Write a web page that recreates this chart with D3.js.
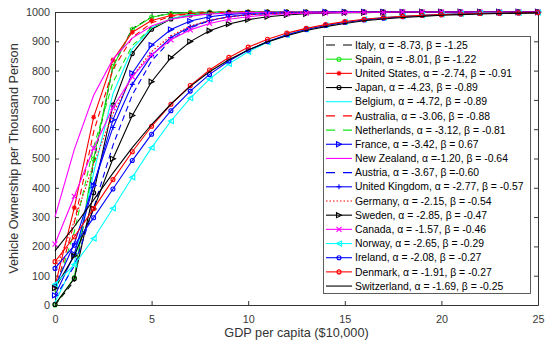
<!DOCTYPE html>
<html lang="en">
<head>
<meta charset="UTF-8">
<title>Vehicle ownership vs GDP per capita</title>
<script src="https://d3js.org/d3.v7.min.js"></script>
<style>
  body { margin: 0; background: #fff; }
  svg { display: block; font-family: "Liberation Sans", Arial, sans-serif; }
  .axis text { fill: #3a3a3a; font-size: 10.8px; }
  .axis path, .axis line { stroke: #333; }
</style>
</head>
<body>
<script>
// GDP per capita ($10,000)
const xValues = [0,1,2,3,4,5,6,7,8,9,10,11,12,13,14,15,16,17,18,19,20,21,22,23,24,25];

// vehicle ownership per thousand persons
const italy = [0,82,488,814,943,983,995,999,1000,1000,1000,1000,1000,1000,1000,1000,1000,1000,1000,1000,1000,1000,1000,1000,1000,1000];
const spain = [0,94,498,814,941,982,995,998,1000,1000,1000,1000,1000,1000,1000,1000,1000,1000,1000,1000,1000,1000,1000,1000,1000,1000];
const unitedStates = [65,332,641,836,931,971,988,995,998,999,1000,1000,1000,1000,1000,1000,1000,1000,1000,1000,1000,1000,1000,1000,1000,1000];
const japan = [2,90,383,682,858,941,976,990,996,998,999,1000,1000,1000,1000,1000,1000,1000,1000,1000,1000,1000,1000,1000,1000,1000];
const belgium = [9,144,451,721,874,946,978,991,996,998,999,1000,1000,1000,1000,1000,1000,1000,1000,1000,1000,1000,1000,1000,1000,1000];
const australia = [47,281,591,804,913,963,985,994,997,999,1000,1000,1000,1000,1000,1000,1000,1000,1000,1000,1000,1000,1000,1000,1000,1000];
const netherlands = [44,250,539,760,885,947,976,989,995,998,999,1000,1000,1000,1000,1000,1000,1000,1000,1000,1000,1000,1000,1000,1000,1000];
const france = [33,174,408,632,791,887,940,969,984,992,996,998,999,999,1000,1000,1000,1000,1000,1000,1000,1000,1000,1000,1000,1000];
const newZealand = [301,531,716,839,911,952,975,986,993,996,998,999,999,1000,1000,1000,1000,1000,1000,1000,1000,1000,1000,1000,1000,1000];
const austria = [25,133,331,545,717,833,905,946,970,984,991,995,997,998,999,1000,1000,1000,1000,1000,1000,1000,1000,1000,1000,1000];
const unitedKingdom = [63,209,412,606,753,852,913,950,971,984,991,995,997,998,999,999,1000,1000,1000,1000,1000,1000,1000,1000,1000,1000];
const germany = [116,286,482,653,780,865,919,952,972,983,990,994,997,998,999,999,1000,1000,1000,1000,1000,1000,1000,1000,1000,1000];
const sweden = [58,168,328,499,647,762,844,899,936,959,974,984,990,994,996,998,998,999,999,1000,1000,1000,1000,1000,1000,1000];
const canada = [208,371,535,674,779,854,905,939,961,975,984,990,994,996,997,998,999,999,1000,1000,1000,1000,1000,1000,1000,1000];
const norway = [71,138,227,330,436,537,628,706,771,823,864,897,922,941,955,966,975,981,986,989,992,994,996,997,997,998];
const ireland = [125,204,298,396,493,583,663,730,787,833,870,899,922,940,954,964,973,979,984,988,991,993,995,996,997,998];
const denmark = [148,233,329,428,523,610,685,749,802,845,880,907,928,944,957,967,975,981,985,989,991,993,995,996,997,998];
const switzerland = [185,268,359,450,537,616,686,746,796,837,870,898,919,937,950,961,970,976,981,985,989,991,993,995,996,997];

const legendLabels = [
  "Italy, \u03b1 = -8.73, \u03b2 = -1.25",
  "Spain, \u03b1 = -8.01, \u03b2 = -1.22",
  "United States, \u03b1 = -2.74, \u03b2 = -0.91",
  "Japan, \u03b1 = -4.23, \u03b2 = -0.89",
  "Belgium, \u03b1 = -4.72, \u03b2 = -0.89",
  "Australia, \u03b1 = -3.06, \u03b2 = -0.88",
  "Netherlands, \u03b1 = -3.12, \u03b2 = -0.81",
  "France, \u03b1 = -3.42, \u03b2 = 0.67",
  "New Zealand, \u03b1 =-1.20, \u03b2 = -0.64",
  "Austria, \u03b1 = -3.67, \u03b2 =-0.60",
  "United Kingdom, \u03b1 = -2.77, \u03b2 = -0.57",
  "Germany, \u03b1 = -2.15, \u03b2 = -0.54",
  "Sweden, \u03b1 = -2.85, \u03b2 = -0.47",
  "Canada, \u03b1 = -1.57, \u03b2 = -0.46",
  "Norway, \u03b1 = -2.65, \u03b2 = -0.29",
  "Ireland, \u03b1 = -2.08, \u03b2 = -0.27",
  "Denmark, \u03b1 = -1.91, \u03b2 = -0.27",
  "Switzerland, \u03b1 = -1.69, \u03b2 = -0.25"
];

const xTicks = [0,5,10,15,20,25];
const yTicks = [0,100,200,300,400,500,600,700,800,900,1000];

// line style per series (MATLAB style colours)
const green = "#14e614";
const series = [
  {values: italy,         color: "#000",    dash: "6,4",   marker: null},
  {values: spain,         color: green,     dash: null,    marker: "o"},
  {values: unitedStates,  color: "#ff0000", dash: null,    marker: "*"},
  {values: japan,         color: "#000",    dash: null,    marker: "o"},
  {values: belgium,       color: "#00ffff", dash: null,    marker: null},
  {values: australia,     color: "#ff0000", dash: "6,4",   marker: null},
  {values: netherlands,   color: green,     dash: "6,4",   marker: null},
  {values: france,        color: "#0000ff", dash: null,    marker: ">"},
  {values: newZealand,    color: "#ff00ff", dash: null,    marker: null},
  {values: austria,       color: "#0000ff", dash: "6,4",   marker: null},
  {values: unitedKingdom, color: "#0000ff", dash: null,    marker: "+"},
  {values: germany,       color: "#ff0000", dash: "1.5,2", marker: null},
  {values: sweden,        color: "#000",    dash: null,    marker: ">"},
  {values: canada,        color: "#ff00ff", dash: null,    marker: "x"},
  {values: norway,        color: "#00ffff", dash: null,    marker: "<"},
  {values: ireland,       color: "#0000ff", dash: null,    marker: "o"},
  {values: denmark,       color: "#ff0000", dash: null,    marker: "o"},
  {values: switzerland,   color: "#000",    dash: null,    marker: null}
];

const width = 550, height = 346;
const margin = {top: 12, right: 12, bottom: 41, left: 55};
const w = width - margin.left - margin.right;
const h = height - margin.top - margin.bottom;

const svg = d3.select("body").append("svg")
  .attr("width", width)
  .attr("height", height);

const g = svg.append("g")
  .attr("transform", "translate(" + margin.left + "," + margin.top + ")");

const x = d3.scaleLinear().domain([0, 25]).range([0, w]);
const y = d3.scaleLinear().domain([0, 1000]).range([h, 0]);

// axes, ticks pointing inward, box on all four sides
g.append("g").attr("class", "axis")
  .attr("transform", "translate(0," + h + ")")
  .call(d3.axisBottom(x).tickValues(xTicks).tickSize(-4).tickSizeOuter(0).tickPadding(10).tickFormat(d3.format("d")));
g.append("g").attr("class", "axis")
  .call(d3.axisLeft(y).tickValues(yTicks).tickSize(-4).tickSizeOuter(0).tickPadding(5).tickFormat(d3.format("d")));
g.append("g").attr("class", "axis")
  .call(d3.axisTop(x).tickValues(xTicks).tickSize(-4).tickSizeOuter(0).tickFormat(""));
g.append("g").attr("class", "axis")
  .attr("transform", "translate(" + w + ",0)")
  .call(d3.axisRight(y).tickValues(yTicks).tickSize(-4).tickSizeOuter(0).tickFormat(""));

// marker shapes
function markerPath(type, s) {
  if (type === "+") return "M" + (-s) + ",0H" + s + "M0," + (-s) + "V" + s;
  if (type === "x") return "M" + (-s) + "," + (-s) + "L" + s + "," + s + "M" + (-s) + "," + s + "L" + s + "," + (-s);
  if (type === "*") {
    const d = s * 0.7;
    return "M" + (-s) + ",0H" + s + "M0," + (-s) + "V" + s +
      "M" + (-d) + "," + (-d) + "L" + d + "," + d + "M" + (-d) + "," + d + "L" + d + "," + (-d);
  }
  if (type === ">") return "M" + s + ",0L" + (-s) + "," + (-s) + "L" + (-s) + "," + s + "Z";
  if (type === "<") return "M" + (-s) + ",0L" + s + "," + (-s) + "L" + s + "," + s + "Z";
  return d3.symbol(d3.symbolCircle, Math.PI * s * s * 0.64)();
}

const line = d3.line()
  .x((d, i) => x(xValues[i]))
  .y(d => y(d));

series.forEach(s => {
  g.append("path")
    .datum(s.values)
    .attr("fill", "none")
    .attr("stroke", s.color)
    .attr("stroke-width", 1.1)
    .attr("stroke-dasharray", s.dash)
    .attr("d", line);

  if (s.marker) {
    g.selectAll(null)
      .data(s.values)
      .enter().append("path")
      .attr("transform", (d, i) => "translate(" + x(xValues[i]) + "," + y(d) + ")")
      .attr("d", markerPath(s.marker, 2.5))
      .attr("fill", "none")
      .attr("stroke", s.color)
      .attr("stroke-width", 1.1);
  }
});

// axis titles
svg.append("text")
  .attr("x", margin.left + w / 2)
  .attr("y", 337)
  .attr("text-anchor", "middle")
  .attr("font-size", "12.7px")
  .attr("fill", "#333")
  .text("GDP per capita ($10,000)");

svg.append("text")
  .attr("transform", "translate(18," + (margin.top + h / 2) + ") rotate(-90)")
  .attr("text-anchor", "middle")
  .attr("font-size", "12.7px")
  .attr("fill", "#333")
  .text("Vehicle Ownership per Thousand Person");

// legend
const legend = svg.append("g");
legend.append("rect")
  .attr("x", 323.5).attr("y", 36.5)
  .attr("width", 207).attr("height", 257)
  .attr("fill", "#fff")
  .attr("stroke", "#333")
  .attr("stroke-width", 0.8);

series.forEach((s, i) => {
  const ly = 45 + i * 14.18;
  legend.append("line")
    .attr("x1", 326).attr("x2", 352)
    .attr("y1", ly).attr("y2", ly)
    .attr("stroke", s.color)
    .attr("stroke-width", 1.1)
    .attr("stroke-dasharray", s.dash === "6,4" ? "9,8" : s.dash);
  if (s.marker) {
    legend.append("path")
      .attr("transform", "translate(339," + ly + ")")
      .attr("d", markerPath(s.marker, 2.5))
      .attr("fill", "none")
      .attr("stroke", s.color)
      .attr("stroke-width", 1.1);
  }
  legend.append("text")
    .attr("x", 355)
    .attr("y", ly)
    .attr("dy", "0.35em")
    .attr("font-size", "10.4px")
    .attr("fill", "#000")
    .text(legendLabels[i]);
});
</script>
</body>
</html>
